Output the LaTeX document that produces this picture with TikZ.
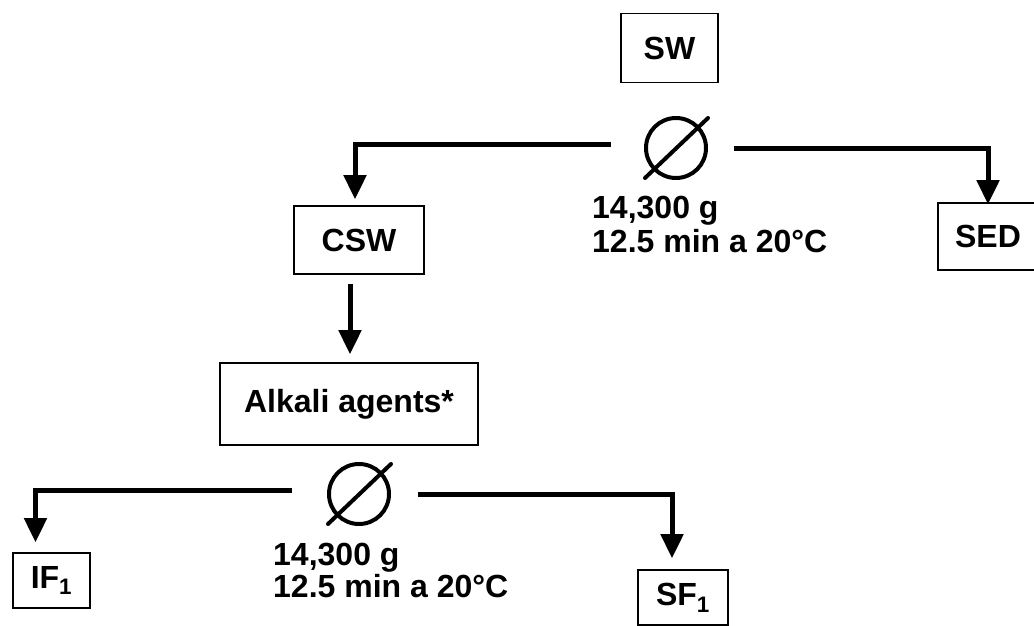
\documentclass[tikz,border=0pt]{standalone}
\usepackage{fontspec}
\setmainfont{Liberation Sans}
\usetikzlibrary{arrows.meta,calc}
\begin{document}
\begin{tikzpicture}[x=1pt,y=-1pt,
  lbl/.style={font=\fontsize{32}{32}\selectfont\bfseries, inner sep=0pt},
  box/.style={draw, line width=1.6pt, lbl, minimum width=#1, minimum height=66},
  box/.default=100,
  conn/.style={line width=5pt, -{Triangle[width=22pt,length=24pt]}},
  cent/.style={circle, draw, line width=4pt, minimum size=60pt, inner sep=0pt}]
\useasboundingbox (0,0) rectangle (1034,626);
% boxes
\node[box=97, minimum height=69] (sw) at (669.5,48) {SW};
\node[box=130, minimum height=68] (csw) at (359,240) {CSW};
\node[box=100, minimum height=67] (sed) at (988,236.5) {SED};
\node[box=258, minimum height=82] (alk) at (349,404) {Alkali agents*};
\node[box=77, minimum height=55] (if) at (51.5,580.5) {IF\textsubscript{1}};
\node[box=90, minimum height=55] (sf) at (683,597.5) {SF\textsubscript{1}};
% centrifuge symbols
\node[cent] (c1) at (676,148) {};
\draw[line width=4pt, line cap=round] ($(c1)+(-31,30)$) -- ($(c1)+(32,-30)$);
\node[cent] (c2) at (359,494) {};
\draw[line width=4pt, line cap=round] ($(c2)+(-31,30)$) -- ($(c2)+(32,-30)$);
% conditions
\node[lbl, anchor=base west] (t1a) at (592,218) {14,300 g};
\node[lbl, anchor=base west] (t1b) at (592,252) {12.5 min a 20°C};
\node[lbl, anchor=base west] (t2a) at (273,565) {14,300 g};
\node[lbl, anchor=base west] (t2b) at (273,597) {12.5 min a 20°C};
% connectors
\coordinate (cs) at ([xshift=-9pt]csw.south);
\draw[conn, shorten <=33pt] ($(c1.west)+(0,-4)$) -| ([xshift=-4pt,yshift=6pt]csw.north);
\draw[conn, shorten <=26pt] (c1.east) -| ([yshift=-2pt]sed.north);
\draw[conn, shorten <=9pt, shorten >=8pt] (cs) -- (cs |- alk.north);
\draw[conn, shorten <=35pt] ($(c2.west)+(0,-4)$) -| ([xshift=-16pt,yshift=10pt]if.north);
\draw[conn, shorten <=27pt] (c2.east) -| ([xshift=-11pt,yshift=11pt]sf.north);
\end{tikzpicture}
\end{document}
